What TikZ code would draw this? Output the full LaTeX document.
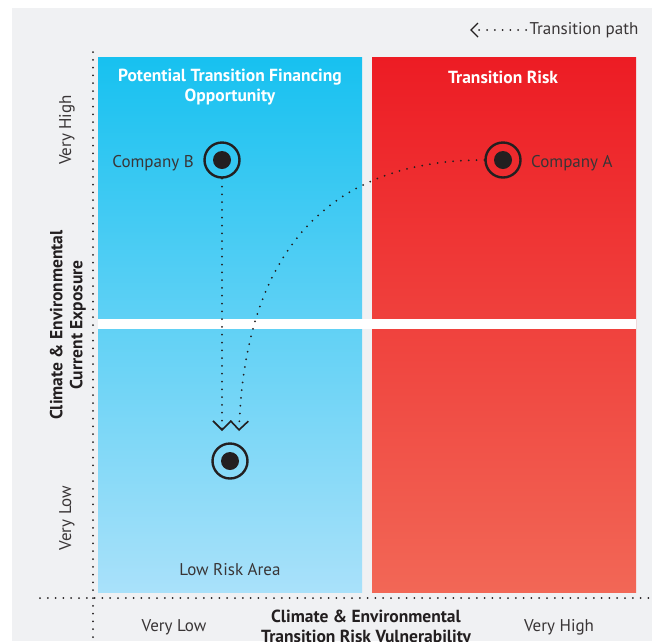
\documentclass[tikz,border=0pt]{standalone}
\usepackage{fontspec}
\setmainfont{PT Sans}
\usetikzlibrary{arrows.meta,positioning}

\definecolor{panelgrey}{HTML}{F0F1F3}
\definecolor{bluetop}{HTML}{17C1F0}
\definecolor{bluebot}{HTML}{A9E1FA}
\definecolor{redtop}{HTML}{ED1C24}
\definecolor{redbot}{HTML}{F26756}
\definecolor{ink}{HTML}{231F20}

\tikzset{
  dotline/.style={ink, line width=2pt, line cap=round, dash pattern=on 0pt off 7.8pt},
  chevron/.style={-{Straight Barb[length=9pt,width=18pt,line width=1.6pt]}},
  ring/.style={circle, draw=ink, line width=2.4pt, minimum size=35pt, inner sep=0pt},
  dot/.style={circle, fill=ink, minimum size=18pt, inner sep=0pt},
  lbl/.style={font=\fontsize{17}{20}\selectfont, text=ink!90},
  head/.style={font=\fontsize{17.5}{20}\selectfont\bfseries, text=white, align=center},
  axis/.style={font=\fontsize{17.5}{20}\selectfont\bfseries, text=ink, align=center}
}

\begin{document}
\begin{tikzpicture}[x=1pt,y=-1pt]
\useasboundingbox (0,0) rectangle (652,641);
\fill[panelgrey] (12,8) rectangle (652,641);

% quadrants
\shade[top color=bluetop, bottom color=bluebot] (98,57) rectangle (362,592);
\shade[top color=redtop, bottom color=redbot] (372,57) rectangle (636,592);
\fill[white] (98,319) rectangle (636,329);

% axes
\draw[dotline] (93,52) -- (93,641);
\draw[dotline] (40,598) -- (652,598);

% headings
\node[head] (opp) at (230,87) {Potential Transition Financing\\Opportunity};
\node[head] (risk) at (503,77) {Transition Risk};

% axis labels
\node[lbl, rotate=90] (yhigh) at (67,130) {Very High};
\node[lbl, rotate=90] (ylow) at (67,518) {Very Low};
\node[axis, rotate=90] (ytitle) at (68,325) {Climate \& Environmental\\Current Exposure};
\node[lbl] (xlow) at (174,627) {Very Low};
\node[lbl] (xhigh) at (559,627) {Very High};
\node[axis, anchor=north] (xtitle) at (366,606) {Climate \& Environmental\\Transition Risk Vulnerability};

% companies
\node[ring] (compB) at (222,160) {};
\node[dot] at (compB) {};
\node[lbl, left=6pt of compB, yshift=-3pt] (labB) {Company B};
\node[ring] (compA) at (503,160) {};
\node[dot] at (compA) {};
\node[lbl, right=6pt of compA, yshift=-3pt] (labA) {Company A};
\node[ring] (safe) at (230,461) {};
\node[dot] at (safe) {};
\node[lbl] (area) at (230,570) {Low Risk Area};

% transition paths
\coordinate (endB) at (222,431);
\coordinate (endA) at (239,431);
\draw[dotline, chevron] (compB.south) -- (endB);
\draw[dotline, chevron] (compA.west) .. controls (330,160) and (245,250) .. (endA);

% legend
\node[lbl, anchor=west] (legend) at (526,30) {Transition path};
\coordinate (legendtip) at (470,30);
\draw[dotline, -{Straight Barb[length=7pt,width=14pt,line width=1.4pt]}] (legend.west) -- (legendtip);
\end{tikzpicture}
\end{document}
